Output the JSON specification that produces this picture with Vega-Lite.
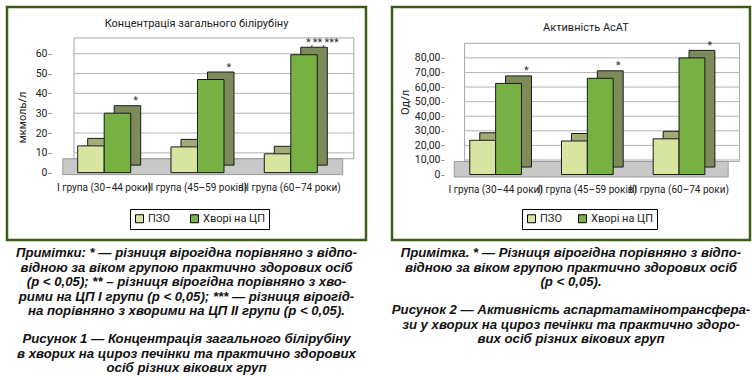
{
  "$schema": "https://vega.github.io/schema/vega-lite/v6.json",
  "background": "white",
  "padding": {"left": 5, "top": 5, "right": 0, "bottom": 0},
  "config": {
    "view": {"stroke": "#3c5c16", "strokeWidth": 2.5, "fill": "white"},
    "font": "Liberation Sans Narrow, Roboto, Liberation Sans, sans-serif",
    "axis": {"labelFont": "Liberation Sans Narrow, Roboto, Liberation Sans, sans-serif", "titleFont": "Liberation Sans Narrow, Roboto, Liberation Sans, sans-serif", "labelColor": "#222", "titleColor": "#222"},
    "legend": {"labelFont": "Liberation Sans Narrow, Roboto, Liberation Sans, sans-serif", "labelColor": "#222"},
    "title": {"font": "Liberation Sans Narrow, Roboto, Liberation Sans, sans-serif", "color": "#222"},
    "text": {"font": "Liberation Sans Narrow, Roboto, Liberation Sans, sans-serif"}
  },
  "datasets": {
    "bili": [
      {"group": "I група (30–44 роки)", "series": "ПЗО", "value": 13.5},
      {"group": "I група (30–44 роки)", "series": "Хворі на ЦП", "value": 30, "sig": "*"},
      {"group": "II група (45–59 років)", "series": "ПЗО", "value": 13},
      {"group": "II група (45–59 років)", "series": "Хворі на ЦП", "value": 47, "sig": "*"},
      {"group": "III група (60–74 роки)", "series": "ПЗО", "value": 9.5},
      {"group": "III група (60–74 роки)", "series": "Хворі на ЦП", "value": 59.5, "sig": "*,**,***"}
    ],
    "asat": [
      {"group": "I група (30–44 роки)", "series": "ПЗО", "value": 23.5},
      {"group": "I група (30–44 роки)", "series": "Хворі на ЦП", "value": 62.5, "sig": "*"},
      {"group": "II група (45–59 років)", "series": "ПЗО", "value": 23},
      {"group": "II група (45–59 років)", "series": "Хворі на ЦП", "value": 66, "sig": "*"},
      {"group": "III група (60–74 роки)", "series": "ПЗО", "value": 24.5},
      {"group": "III група (60–74 роки)", "series": "Хворі на ЦП", "value": 80, "sig": "*"}
    ]
  },
  "spacing": 22,
  "resolve": {
    "scale": {"x": "independent", "y": "independent", "fill": "independent", "xOffset": "independent"},
    "legend": {"fill": "independent"}
  },
  "hconcat": [
    {
      "title": {
        "text": [
          "Примітки: * — різниця вірогідна порівняно з відпо-",
          "відною за віком групою практично здорових осіб",
          "(p < 0,05); ** – різниця вірогідна порівняно з хво-",
          "рими на ЦП I групи (p < 0,05); *** — різниця вірогід-",
          "на порівняно з хворими на ЦП II групи (p < 0,05)."
        ],
        "subtitle": [
          "Рисунок 1 — Концентрація загального білірубіну",
          "в хворих на цироз печінки та практично здорових",
          "осіб різних вікових груп"
        ],
        "orient": "bottom", "anchor": "middle", "offset": 6,
        "font": "Liberation Sans", "fontSize": 13.2, "fontStyle": "italic", "fontWeight": "bold", "lineHeight": 14.5, "color": "#111",
        "subtitleFont": "Liberation Sans", "subtitleFontSize": 13.2, "subtitleFontStyle": "italic", "subtitleFontWeight": "bold", "subtitleLineHeight": 14.5, "subtitleColor": "#111", "subtitlePadding": 15
      },
      "vconcat": [
        {
          "width": 359, "height": 233,
          "data": {"name": "bili"},
          "title": {"text": "Концентрація загального білірубіну", "offset": -22, "fontSize": 11, "fontWeight": "normal", "anchor": "middle", "dx": 10, "frame": "group"},
          "resolve": {"scale": {"xOffset": "independent"}},
          "layer": [
            {
              "data": {"values": [{}]},
              "mark": {"type": "rect", "fill": "white", "stroke": "#a6a6a6", "strokeWidth": 1},
              "encoding": {
                "x": {"datum": "I група (30–44 роки)", "type": "nominal", "bandPosition": -0.07,
                      "scale": {"type": "band", "domain": ["I група (30–44 роки)", "II група (45–59 років)", "III група (60–74 роки)"], "paddingInner": 0.432, "paddingOuter": 0.64, "align": 0.592, "round": false},
                      "axis": {"orient": "bottom", "offset": -64.5, "domain": false, "ticks": false, "labelPadding": 7, "labelFontSize": 10, "labelAngle": 0, "labelLimit": 0, "labelOverlap": false, "zindex": 1, "title": null}},
                "x2": {"datum": "III група (60–74 роки)", "bandPosition": 1.69},
                "y": {"datum": 7, "type": "quantitative",
                      "scale": {"domain": [-34, 83.6], "zero": false, "nice": false},
                      "axis": {"values": [0, 10, 20, 30, 40, 50, 60], "grid": false, "domain": false, "tickSize": 3, "tickColor": "#888", "offset": -44, "minExtent": 0, "labelFontSize": 10.5, "labelPadding": 1, "title": "мкмоль/л", "titleFontSize": 11, "titleFontWeight": "normal", "titlePadding": 8, "titleY": 110, "zindex": 1}},
                "y2": {"datum": 68}
              }
            },
            {
              "data": {"values": [{"v": 10}, {"v": 20}, {"v": 30}, {"v": 40}, {"v": 50}, {"v": 60}]},
              "mark": {"type": "rule", "stroke": "#b3b3b3", "strokeWidth": 1},
              "encoding": {
                "x": {"datum": "I група (30–44 роки)", "type": "nominal", "bandPosition": -0.07,
                      "scale": {"type": "band", "domain": ["I група (30–44 роки)", "II група (45–59 років)", "III група (60–74 роки)"], "paddingInner": 0.432, "paddingOuter": 0.64, "align": 0.592, "round": false},
                      "axis": {"orient": "bottom", "offset": -64.5, "domain": false, "ticks": false, "labelPadding": 7, "labelFontSize": 10, "labelAngle": 0, "labelLimit": 0, "labelOverlap": false, "zindex": 1, "title": null}},
                "x2": {"datum": "III група (60–74 роки)", "bandPosition": 1.69},
                "y": {"field": "v", "type": "quantitative",
                      "scale": {"domain": [-34, 83.6], "zero": false, "nice": false},
                      "axis": {"values": [0, 10, 20, 30, 40, 50, 60], "grid": false, "domain": false, "tickSize": 3, "tickColor": "#888", "offset": -44, "minExtent": 0, "labelFontSize": 10.5, "labelPadding": 1, "title": "мкмоль/л", "titleFontSize": 11, "titleFontWeight": "normal", "titlePadding": 8, "titleY": 110, "zindex": 1}}
              }
            },
            {
              "data": {"values": [{}]},
              "mark": {"type": "rect", "fill": "#c8c8c8", "stroke": "#9a9a9a", "strokeWidth": 1},
              "encoding": {
                "x": {"datum": "I група (30–44 роки)", "type": "nominal", "bandPosition": -0.28,
                      "scale": {"type": "band", "domain": ["I група (30–44 роки)", "II група (45–59 років)", "III група (60–74 роки)"], "paddingInner": 0.432, "paddingOuter": 0.64, "align": 0.592, "round": false},
                      "axis": {"orient": "bottom", "offset": -64.5, "domain": false, "ticks": false, "labelPadding": 7, "labelFontSize": 10, "labelAngle": 0, "labelLimit": 0, "labelOverlap": false, "zindex": 1, "title": null}},
                "x2": {"datum": "III група (60–74 роки)", "bandPosition": 1.48},
                "y": {"datum": -1, "type": "quantitative",
                      "scale": {"domain": [-34, 83.6], "zero": false, "nice": false},
                      "axis": {"values": [0, 10, 20, 30, 40, 50, 60], "grid": false, "domain": false, "tickSize": 3, "tickColor": "#888", "offset": -44, "minExtent": 0, "labelFontSize": 10.5, "labelPadding": 1, "title": "мкмоль/л", "titleFontSize": 11, "titleFontWeight": "normal", "titlePadding": 8, "titleY": 110, "zindex": 1}},
                "y2": {"datum": 7}
              }
            },
            {
              "transform": [{"filter": "datum.series == 'ПЗО'"}],
              "mark": {"type": "bar", "fill": "#a0ab76", "stroke": "#1a1a1a", "strokeWidth": 1, "yOffset": -7.5, "y2Offset": -7.5},
              "encoding": {
                "x": {"field": "group", "type": "nominal",
                      "scale": {"type": "band", "domain": ["I група (30–44 роки)", "II група (45–59 років)", "III група (60–74 роки)"], "paddingInner": 0.432, "paddingOuter": 0.64, "align": 0.592, "round": false},
                      "axis": {"orient": "bottom", "offset": -64.5, "domain": false, "ticks": false, "labelPadding": 7, "labelFontSize": 10, "labelAngle": 0, "labelLimit": 0, "labelOverlap": false, "zindex": 1, "title": null}},
                "xOffset": {"field": "series", "type": "nominal", "scale": {"domain": ["ПЗО", "Хворі на ЦП"], "range": [10, 63], "paddingInner": 0, "paddingOuter": 0}},
                "y": {"field": "value", "type": "quantitative",
                      "scale": {"domain": [-34, 83.6], "zero": false, "nice": false},
                      "axis": {"values": [0, 10, 20, 30, 40, 50, 60], "grid": false, "domain": false, "tickSize": 3, "tickColor": "#888", "offset": -44, "minExtent": 0, "labelFontSize": 10.5, "labelPadding": 1, "title": "мкмоль/л", "titleFontSize": 11, "titleFontWeight": "normal", "titlePadding": 8, "titleY": 110, "zindex": 1}},
                "y2": {"datum": 0}
              }
            },
            {
              "transform": [{"filter": "datum.series == 'Хворі на ЦП'"}],
              "mark": {"type": "bar", "fill": "#7d8b5a", "stroke": "#1a1a1a", "strokeWidth": 1, "yOffset": -7.5, "y2Offset": -7.5},
              "encoding": {
                "x": {"field": "group", "type": "nominal",
                      "scale": {"type": "band", "domain": ["I група (30–44 роки)", "II група (45–59 років)", "III група (60–74 роки)"], "paddingInner": 0.432, "paddingOuter": 0.64, "align": 0.592, "round": false},
                      "axis": {"orient": "bottom", "offset": -64.5, "domain": false, "ticks": false, "labelPadding": 7, "labelFontSize": 10, "labelAngle": 0, "labelLimit": 0, "labelOverlap": false, "zindex": 1, "title": null}},
                "xOffset": {"field": "series", "type": "nominal", "scale": {"domain": ["ПЗО", "Хворі на ЦП"], "range": [10, 63], "paddingInner": 0, "paddingOuter": 0}},
                "y": {"field": "value", "type": "quantitative",
                      "scale": {"domain": [-34, 83.6], "zero": false, "nice": false},
                      "axis": {"values": [0, 10, 20, 30, 40, 50, 60], "grid": false, "domain": false, "tickSize": 3, "tickColor": "#888", "offset": -44, "minExtent": 0, "labelFontSize": 10.5, "labelPadding": 1, "title": "мкмоль/л", "titleFontSize": 11, "titleFontWeight": "normal", "titlePadding": 8, "titleY": 110, "zindex": 1}},
                "y2": {"datum": 0}
              }
            },
            {
              "mark": {"type": "bar", "stroke": "#1a1a1a", "strokeWidth": 1},
              "encoding": {
                "x": {"field": "group", "type": "nominal",
                      "scale": {"type": "band", "domain": ["I група (30–44 роки)", "II група (45–59 років)", "III група (60–74 роки)"], "paddingInner": 0.432, "paddingOuter": 0.64, "align": 0.592, "round": false},
                      "axis": {"orient": "bottom", "offset": -64.5, "domain": false, "ticks": false, "labelPadding": 7, "labelFontSize": 10, "labelAngle": 0, "labelLimit": 0, "labelOverlap": false, "zindex": 1, "title": null}},
                "xOffset": {"field": "series", "type": "nominal", "scale": {"domain": ["ПЗО", "Хворі на ЦП"], "range": [0, 53], "paddingInner": 0, "paddingOuter": 0}},
                "y": {"field": "value", "type": "quantitative",
                      "scale": {"domain": [-34, 83.6], "zero": false, "nice": false},
                      "axis": {"values": [0, 10, 20, 30, 40, 50, 60], "grid": false, "domain": false, "tickSize": 3, "tickColor": "#888", "offset": -44, "minExtent": 0, "labelFontSize": 10.5, "labelPadding": 1, "title": "мкмоль/л", "titleFontSize": 11, "titleFontWeight": "normal", "titlePadding": 8, "titleY": 110, "zindex": 1}},
                "y2": {"datum": 0},
                "fill": {"field": "series", "type": "nominal",
                         "scale": {"domain": ["ПЗО", "Хворі на ЦП"], "range": ["#d8e5a0", "#77b043"]},
                         "legend": {"orient": "none", "legendX": 123, "legendY": 202, "direction": "horizontal", "title": null, "strokeColor": "black", "fillColor": "white", "padding": 4, "symbolType": "square", "symbolSize": 64, "symbolStrokeColor": "black", "symbolStrokeWidth": 1, "labelFontSize": 11, "columnPadding": 18, "labelOffset": 3, "zindex": 1}}
              }
            },
            {
              "transform": [{"filter": "datum.sig"}],
              "mark": {"type": "text", "baseline": "alphabetic", "dy": -9, "fontSize": 11, "color": "#333"},
              "encoding": {
                "x": {"field": "group", "type": "nominal",
                      "scale": {"type": "band", "domain": ["I група (30–44 роки)", "II група (45–59 років)", "III група (60–74 роки)"], "paddingInner": 0.432, "paddingOuter": 0.64, "align": 0.592, "round": false},
                      "axis": {"orient": "bottom", "offset": -64.5, "domain": false, "ticks": false, "labelPadding": 7, "labelFontSize": 10, "labelAngle": 0, "labelLimit": 0, "labelOverlap": false, "zindex": 1, "title": null}},
                "xOffset": {"field": "series", "type": "nominal", "scale": {"domain": ["ПЗО", "Хворі на ЦП"], "range": [5, 58], "paddingInner": 0, "paddingOuter": 0}},
                "y": {"field": "value", "type": "quantitative",
                      "scale": {"domain": [-34, 83.6], "zero": false, "nice": false},
                      "axis": {"values": [0, 10, 20, 30, 40, 50, 60], "grid": false, "domain": false, "tickSize": 3, "tickColor": "#888", "offset": -44, "minExtent": 0, "labelFontSize": 10.5, "labelPadding": 1, "title": "мкмоль/л", "titleFontSize": 11, "titleFontWeight": "normal", "titlePadding": 8, "titleY": 110, "zindex": 1}},
                "text": {"field": "sig", "type": "nominal"}
              }
            }
          ]
        }
      ]
    },
    {
      "title": {
        "text": [
          "Примітка. * — Різниця вірогідна порівняно з відпо-",
          "відною за віком групою практично здорових осіб",
          "(p < 0,05)."
        ],
        "subtitle": [
          "Рисунок 2 — Активність аспартатамінотрансфера-",
          "зи у хворих на цироз печінки та практично здоро-",
          "вих осіб різних вікових груп"
        ],
        "orient": "bottom", "anchor": "middle", "offset": 6,
        "font": "Liberation Sans", "fontSize": 13.2, "fontStyle": "italic", "fontWeight": "bold", "lineHeight": 14.5, "color": "#111",
        "subtitleFont": "Liberation Sans", "subtitleFontSize": 13.2, "subtitleFontStyle": "italic", "subtitleFontWeight": "bold", "subtitleLineHeight": 14.5, "subtitleColor": "#111", "subtitlePadding": 15
      },
      "vconcat": [
        {
          "width": 358, "height": 233,
          "data": {"name": "asat"},
          "title": {"text": "Активність АсАТ", "offset": -26, "fontSize": 11, "fontWeight": "normal", "anchor": "middle", "dx": 15, "frame": "group"},
          "resolve": {"scale": {"xOffset": "independent"}},
          "layer": [
            {
              "data": {"values": [{}]},
              "mark": {"type": "rect", "fill": "white", "stroke": "#a6a6a6", "strokeWidth": 1},
              "encoding": {
                "x": {"datum": "I група (30–44 роки)", "type": "nominal", "bandPosition": -0.1,
                      "scale": {"type": "band", "domain": ["I група (30–44 роки)", "II група (45–59 років)", "III група (60–74 роки)"], "paddingInner": 0.436, "paddingOuter": 0.67, "align": 0.633, "round": false},
                      "axis": {"orient": "bottom", "offset": -63, "domain": false, "ticks": false, "labelPadding": 7, "labelFontSize": 10, "labelAngle": 0, "labelLimit": 0, "labelOverlap": false, "zindex": 1, "title": null}},
                "x2": {"datum": "III група (60–74 роки)", "bandPosition": 1.67},
                "y": {"datum": 9, "type": "quantitative",
                      "scale": {"domain": [-44.9, 114.9], "zero": false, "nice": false},
                      "axis": {"values": [0, 10, 20, 30, 40, 50, 60, 70, 80], "labelExpr": "datum.value == 0 ? '0' : replace(format(datum.value, '.2f'), '.', ',')", "grid": false, "domain": false, "tickSize": 3, "tickColor": "#888", "offset": -52, "minExtent": 0, "labelFontSize": 10.5, "labelPadding": 1, "title": "Од/л", "titleFontSize": 11, "titleFontWeight": "normal", "titlePadding": 4, "titleY": 95, "zindex": 1}},
                "y2": {"datum": 90}
              }
            },
            {
              "data": {"values": [{"v": 10}, {"v": 20}, {"v": 30}, {"v": 40}, {"v": 50}, {"v": 60}, {"v": 70}, {"v": 80}]},
              "mark": {"type": "rule", "stroke": "#b3b3b3", "strokeWidth": 1},
              "encoding": {
                "x": {"datum": "I група (30–44 роки)", "type": "nominal", "bandPosition": -0.1,
                      "scale": {"type": "band", "domain": ["I група (30–44 роки)", "II група (45–59 років)", "III група (60–74 роки)"], "paddingInner": 0.436, "paddingOuter": 0.67, "align": 0.633, "round": false},
                      "axis": {"orient": "bottom", "offset": -63, "domain": false, "ticks": false, "labelPadding": 7, "labelFontSize": 10, "labelAngle": 0, "labelLimit": 0, "labelOverlap": false, "zindex": 1, "title": null}},
                "x2": {"datum": "III група (60–74 роки)", "bandPosition": 1.67},
                "y": {"field": "v", "type": "quantitative",
                      "scale": {"domain": [-44.9, 114.9], "zero": false, "nice": false},
                      "axis": {"values": [0, 10, 20, 30, 40, 50, 60, 70, 80], "labelExpr": "datum.value == 0 ? '0' : replace(format(datum.value, '.2f'), '.', ',')", "grid": false, "domain": false, "tickSize": 3, "tickColor": "#888", "offset": -52, "minExtent": 0, "labelFontSize": 10.5, "labelPadding": 1, "title": "Од/л", "titleFontSize": 11, "titleFontWeight": "normal", "titlePadding": 4, "titleY": 95, "zindex": 1}}
              }
            },
            {
              "data": {"values": [{}]},
              "mark": {"type": "rect", "fill": "#c8c8c8", "stroke": "#9a9a9a", "strokeWidth": 1},
              "encoding": {
                "x": {"datum": "I група (30–44 роки)", "type": "nominal", "bandPosition": -0.3,
                      "scale": {"type": "band", "domain": ["I група (30–44 роки)", "II група (45–59 років)", "III група (60–74 роки)"], "paddingInner": 0.436, "paddingOuter": 0.67, "align": 0.633, "round": false},
                      "axis": {"orient": "bottom", "offset": -63, "domain": false, "ticks": false, "labelPadding": 7, "labelFontSize": 10, "labelAngle": 0, "labelLimit": 0, "labelOverlap": false, "zindex": 1, "title": null}},
                "x2": {"datum": "III група (60–74 роки)", "bandPosition": 1.45},
                "y": {"datum": -1.7, "type": "quantitative",
                      "scale": {"domain": [-44.9, 114.9], "zero": false, "nice": false},
                      "axis": {"values": [0, 10, 20, 30, 40, 50, 60, 70, 80], "labelExpr": "datum.value == 0 ? '0' : replace(format(datum.value, '.2f'), '.', ',')", "grid": false, "domain": false, "tickSize": 3, "tickColor": "#888", "offset": -52, "minExtent": 0, "labelFontSize": 10.5, "labelPadding": 1, "title": "Од/л", "titleFontSize": 11, "titleFontWeight": "normal", "titlePadding": 4, "titleY": 95, "zindex": 1}},
                "y2": {"datum": 9}
              }
            },
            {
              "transform": [{"filter": "datum.series == 'ПЗО'"}],
              "mark": {"type": "bar", "fill": "#a0ab76", "stroke": "#1a1a1a", "strokeWidth": 1, "yOffset": -7.5, "y2Offset": -7.5},
              "encoding": {
                "x": {"field": "group", "type": "nominal",
                      "scale": {"type": "band", "domain": ["I група (30–44 роки)", "II група (45–59 років)", "III група (60–74 роки)"], "paddingInner": 0.436, "paddingOuter": 0.67, "align": 0.633, "round": false},
                      "axis": {"orient": "bottom", "offset": -63, "domain": false, "ticks": false, "labelPadding": 7, "labelFontSize": 10, "labelAngle": 0, "labelLimit": 0, "labelOverlap": false, "zindex": 1, "title": null}},
                "xOffset": {"field": "series", "type": "nominal", "scale": {"domain": ["ПЗО", "Хворі на ЦП"], "range": [10, 61.7], "paddingInner": 0, "paddingOuter": 0}},
                "y": {"field": "value", "type": "quantitative",
                      "scale": {"domain": [-44.9, 114.9], "zero": false, "nice": false},
                      "axis": {"values": [0, 10, 20, 30, 40, 50, 60, 70, 80], "labelExpr": "datum.value == 0 ? '0' : replace(format(datum.value, '.2f'), '.', ',')", "grid": false, "domain": false, "tickSize": 3, "tickColor": "#888", "offset": -52, "minExtent": 0, "labelFontSize": 10.5, "labelPadding": 1, "title": "Од/л", "titleFontSize": 11, "titleFontWeight": "normal", "titlePadding": 4, "titleY": 95, "zindex": 1}},
                "y2": {"datum": 0}
              }
            },
            {
              "transform": [{"filter": "datum.series == 'Хворі на ЦП'"}],
              "mark": {"type": "bar", "fill": "#7d8b5a", "stroke": "#1a1a1a", "strokeWidth": 1, "yOffset": -7.5, "y2Offset": -7.5},
              "encoding": {
                "x": {"field": "group", "type": "nominal",
                      "scale": {"type": "band", "domain": ["I група (30–44 роки)", "II група (45–59 років)", "III група (60–74 роки)"], "paddingInner": 0.436, "paddingOuter": 0.67, "align": 0.633, "round": false},
                      "axis": {"orient": "bottom", "offset": -63, "domain": false, "ticks": false, "labelPadding": 7, "labelFontSize": 10, "labelAngle": 0, "labelLimit": 0, "labelOverlap": false, "zindex": 1, "title": null}},
                "xOffset": {"field": "series", "type": "nominal", "scale": {"domain": ["ПЗО", "Хворі на ЦП"], "range": [10, 61.7], "paddingInner": 0, "paddingOuter": 0}},
                "y": {"field": "value", "type": "quantitative",
                      "scale": {"domain": [-44.9, 114.9], "zero": false, "nice": false},
                      "axis": {"values": [0, 10, 20, 30, 40, 50, 60, 70, 80], "labelExpr": "datum.value == 0 ? '0' : replace(format(datum.value, '.2f'), '.', ',')", "grid": false, "domain": false, "tickSize": 3, "tickColor": "#888", "offset": -52, "minExtent": 0, "labelFontSize": 10.5, "labelPadding": 1, "title": "Од/л", "titleFontSize": 11, "titleFontWeight": "normal", "titlePadding": 4, "titleY": 95, "zindex": 1}},
                "y2": {"datum": 0}
              }
            },
            {
              "mark": {"type": "bar", "stroke": "#1a1a1a", "strokeWidth": 1},
              "encoding": {
                "x": {"field": "group", "type": "nominal",
                      "scale": {"type": "band", "domain": ["I група (30–44 роки)", "II група (45–59 років)", "III група (60–74 роки)"], "paddingInner": 0.436, "paddingOuter": 0.67, "align": 0.633, "round": false},
                      "axis": {"orient": "bottom", "offset": -63, "domain": false, "ticks": false, "labelPadding": 7, "labelFontSize": 10, "labelAngle": 0, "labelLimit": 0, "labelOverlap": false, "zindex": 1, "title": null}},
                "xOffset": {"field": "series", "type": "nominal", "scale": {"domain": ["ПЗО", "Хворі на ЦП"], "range": [0, 51.7], "paddingInner": 0, "paddingOuter": 0}},
                "y": {"field": "value", "type": "quantitative",
                      "scale": {"domain": [-44.9, 114.9], "zero": false, "nice": false},
                      "axis": {"values": [0, 10, 20, 30, 40, 50, 60, 70, 80], "labelExpr": "datum.value == 0 ? '0' : replace(format(datum.value, '.2f'), '.', ',')", "grid": false, "domain": false, "tickSize": 3, "tickColor": "#888", "offset": -52, "minExtent": 0, "labelFontSize": 10.5, "labelPadding": 1, "title": "Од/л", "titleFontSize": 11, "titleFontWeight": "normal", "titlePadding": 4, "titleY": 95, "zindex": 1}},
                "y2": {"datum": 0},
                "fill": {"field": "series", "type": "nominal",
                         "scale": {"domain": ["ПЗО", "Хворі на ЦП"], "range": ["#d8e5a0", "#77b043"]},
                         "legend": {"orient": "none", "legendX": 130, "legendY": 202, "direction": "horizontal", "title": null, "strokeColor": "black", "fillColor": "white", "padding": 4, "symbolType": "square", "symbolSize": 64, "symbolStrokeColor": "black", "symbolStrokeWidth": 1, "labelFontSize": 11, "columnPadding": 14, "labelOffset": 3, "zindex": 1}}
              }
            },
            {
              "transform": [{"filter": "datum.sig"}],
              "mark": {"type": "text", "baseline": "alphabetic", "dy": -9, "fontSize": 11, "color": "#333"},
              "encoding": {
                "x": {"field": "group", "type": "nominal",
                      "scale": {"type": "band", "domain": ["I група (30–44 роки)", "II група (45–59 років)", "III група (60–74 роки)"], "paddingInner": 0.436, "paddingOuter": 0.67, "align": 0.633, "round": false},
                      "axis": {"orient": "bottom", "offset": -63, "domain": false, "ticks": false, "labelPadding": 7, "labelFontSize": 10, "labelAngle": 0, "labelLimit": 0, "labelOverlap": false, "zindex": 1, "title": null}},
                "xOffset": {"field": "series", "type": "nominal", "scale": {"domain": ["ПЗО", "Хворі на ЦП"], "range": [5, 56.7], "paddingInner": 0, "paddingOuter": 0}},
                "y": {"field": "value", "type": "quantitative",
                      "scale": {"domain": [-44.9, 114.9], "zero": false, "nice": false},
                      "axis": {"values": [0, 10, 20, 30, 40, 50, 60, 70, 80], "labelExpr": "datum.value == 0 ? '0' : replace(format(datum.value, '.2f'), '.', ',')", "grid": false, "domain": false, "tickSize": 3, "tickColor": "#888", "offset": -52, "minExtent": 0, "labelFontSize": 10.5, "labelPadding": 1, "title": "Од/л", "titleFontSize": 11, "titleFontWeight": "normal", "titlePadding": 4, "titleY": 95, "zindex": 1}},
                "text": {"field": "sig", "type": "nominal"}
              }
            }
          ]
        }
      ]
    }
  ]
}
